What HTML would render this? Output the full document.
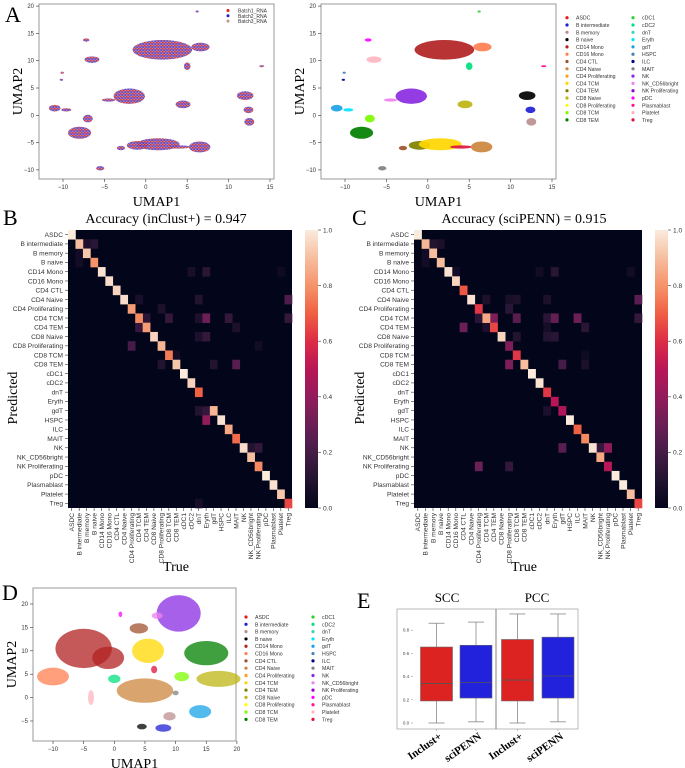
<!DOCTYPE html>
<html><head><meta charset="utf-8"><style>
html,body{margin:0;padding:0;background:#fff;}
svg{display:block;font-family:"Liberation Sans",sans-serif;}
.serif{font-family:"Liberation Serif",serif;}
</style></head><body>
<svg id="fig" width="685" height="768" viewBox="0 0 685 768" xmlns="http://www.w3.org/2000/svg">
<defs>
<pattern id="mix" width="3" height="3" patternUnits="userSpaceOnUse">
<rect width="3" height="3" fill="#a06aa8"/>
<circle cx="0.7" cy="0.7" r="0.8" fill="#e02020"/>
<circle cx="2.2" cy="2.0" r="0.8" fill="#2a2ae0"/>
<circle cx="2.2" cy="0.6" r="0.5" fill="#c89090"/>
</pattern>
<linearGradient id="rk" x1="0" y1="1" x2="0" y2="0">
<stop offset="0" stop-color="#03051A"/><stop offset="0.1" stop-color="#221331"/><stop offset="0.2" stop-color="#451C47"/><stop offset="0.3" stop-color="#6A1F56"/><stop offset="0.4" stop-color="#921C5B"/><stop offset="0.5" stop-color="#B91657"/><stop offset="0.6" stop-color="#DD2C45"/><stop offset="0.7" stop-color="#F06043"/><stop offset="0.8" stop-color="#F5936A"/><stop offset="0.9" stop-color="#F6BE9F"/><stop offset="1" stop-color="#FAEBDD"/>
</linearGradient>
</defs>
<g id="root"></g>
</svg>
<script>
// ---------- data ----------
const cats=["ASDC","B intermediate","B memory","B naive","CD14 Mono","CD16 Mono","CD4 CTL","CD4 Naive","CD4 Proliferating","CD4 TCM","CD4 TEM","CD8 Naive","CD8 Proliferating","CD8 TCM","CD8 TEM","cDC1","cDC2","dnT","Eryth","gdT","HSPC","ILC","MAIT","NK","NK_CD56bright","NK Proliferating","pDC","Plasmablast","Platelet","Treg"];
const catColors=["#e41a1c","#1f1fd6","#bc8f8f","#000000","#b22222","#ff7f50","#a0522d","#cd853f","#ff9f1a","#ffd700","#808000","#bdb513","#ffff00","#7cfc00","#008000","#32cd32","#00e080","#40d0c0","#00e5ff","#1aa3e8","#4682b4","#00008b","#808080","#8a2be2","#ee82ee","#9400d3","#ff00ff","#ff1493","#ffb6c1","#dc143c"];
const diagB=[1.0,0.9,0.92,0.8,0.98,0.97,0.95,0.97,0.82,0.78,0.82,0.95,0.88,0.75,0.92,1.0,0.95,0.7,0.0,0.88,0.98,0.85,0.72,0.97,0.9,0.78,1.0,0.98,0.92,0.65];
const diagC=[1.0,0.88,0.9,0.9,0.98,0.95,0.68,0.98,0.62,0.85,0.65,0.95,0.35,0.62,0.9,1.0,0.98,0.62,0.5,0.48,1.0,0.7,0.78,0.98,0.85,0.5,1.0,1.0,0.9,0.65];
const offB=[[1,2,0.08],[1,3,0.12],[2,1,0.05],[3,1,0.05],[4,16,0.07],[4,18,0.12],[4,28,0.04],[7,9,0.07],[7,17,0.1],[7,29,0.22],[8,12,0.08],[9,10,0.12],[9,13,0.15],[9,17,0.08],[9,18,0.3],[9,21,0.15],[9,29,0.15],[10,9,0.15],[10,22,0.08],[11,17,0.08],[11,18,0.15],[12,8,0.2],[12,25,0.05],[13,14,0.05],[14,12,0.1],[14,19,0.1],[14,22,0.25],[19,17,0.1],[19,18,0.15],[20,18,0.4],[23,24,0.1],[23,25,0.15],[29,17,0.06]];
const offC=[[1,2,0.1],[1,3,0.08],[2,1,0.05],[3,1,0.05],[4,5,0.05],[4,16,0.05],[4,18,0.12],[4,28,0.05],[7,9,0.08],[7,12,0.07],[7,13,0.08],[7,17,0.08],[7,29,0.25],[8,12,0.12],[9,8,0.12],[9,10,0.35],[9,13,0.25],[9,17,0.12],[9,18,0.28],[9,21,0.3],[9,29,0.15],[10,6,0.3],[10,9,0.08],[10,17,0.06],[10,22,0.12],[11,13,0.1],[11,17,0.1],[11,18,0.12],[13,22,0.04],[14,12,0.35],[14,19,0.2],[14,22,0.08],[19,17,0.08],[23,19,0.25],[23,24,0.15],[23,25,0.4],[25,8,0.3],[25,12,0.15]];
const cbTicks=[0,0.2,0.4,0.6,0.8,1.0];
const cbTickLabels=["0.0","0.2","0.4","0.6","0.8","1.0"];
// UMAP clusters: [category index, x, y, rx, ry]
const umapA=[[4,2,12,3.6,1.8],[5,6.6,12.5,1.1,0.8],[16,5,9,0.4,0.7],[26,-7.2,13.8,0.4,0.3],[28,-6.5,10.2,0.9,0.6],[24,-4.5,2.8,0.8,0.3],[23,-2,3.5,1.9,1.4],[11,4.5,2,0.9,0.7],[3,12,3.6,1.0,0.8],[1,12.4,1,0.6,0.6],[2,12.5,-1.2,0.6,0.7],[19,-11,1.3,0.7,0.6],[18,-9.6,1.0,0.6,0.3],[13,-7,-0.6,0.6,0.7],[14,-8,-3.2,1.4,1.1],[10,-1,-5.5,1.3,0.8],[9,1.5,-5.3,2.6,1.1],[6,-3,-6,0.5,0.4],[29,4,-5.8,1.3,0.3],[7,6.5,-5.8,1.3,1.0],[22,-5.5,-9.7,0.5,0.4],[27,14,9,0.3,0.2],[15,6.2,19,0.2,0.2],[20,-10.1,7.8,0.2,0.2],[21,-10.2,6.5,0.2,0.2]];
const umapD=[[4,-5,10.5,4.6,4.2],[4,-1,8.5,2.6,2.4],[5,-10,4.5,2.6,1.9],[23,10.5,18,3.6,3.9],[24,7,17.5,0.9,0.7],[26,1,17.8,0.3,0.6],[6,4,14.8,1.5,1.1],[9,5.5,10,2.6,2.6],[14,15,9.5,3.6,2.6],[13,11,4.5,1.2,1.0],[11,17,4,3.6,1.7],[7,5,1.5,4.6,2.6],[16,0,4,1.0,0.9],[28,-3.8,0,0.5,1.6],[19,14,-3,1.8,1.4],[3,4.5,-6.2,0.8,0.6],[1,8,-6.5,1.3,0.8],[2,9,-4,1.0,0.9],[29,6.5,6,0.5,0.8],[22,10,1,0.5,0.5]];
const legA=["Batch1_RNA","Batch2_RNA","Batch3_RNA"];
const legAColors=["#e41a1c","#1f1fd6","#c89090"];
// box plot data
const boxGroups=["SCC","SCC","PCC","PCC"];
const boxMethods=["Inclust+","sciPENN","Inclust+","sciPENN"];
const boxLow=[0.0,0.01,0.0,0.01];
const boxQ1=[0.19,0.215,0.19,0.215];
const boxMed=[0.34,0.35,0.37,0.405];
const boxQ3=[0.655,0.67,0.72,0.74];
const boxHigh=[0.86,0.87,0.94,0.94];
const boxColors=["#dd2222","#2222dd","#dd2222","#2222dd"];
const eTicks=[0,0.2,0.4,0.6,0.8];
const eTickLabels=["0.0","0.2","0.4","0.6","0.8"];

// ---------- helpers ----------
const NS="http://www.w3.org/2000/svg";
const root=document.getElementById('root');
function mk(tag,attrs,parent,txt){const e=document.createElementNS(NS,tag);for(const k in attrs)e.setAttribute(k,attrs[k]);if(txt!==undefined)e.textContent=txt;(parent||root).appendChild(e);return e;}
const stops=[[0,[3,5,26]],[0.1,[34,19,49]],[0.2,[69,28,71]],[0.3,[106,31,86]],[0.4,[146,28,91]],[0.5,[185,22,87]],[0.6,[221,44,69]],[0.7,[240,96,67]],[0.8,[245,147,106]],[0.9,[246,190,159]],[1,[250,235,221]]];
function rocket(v){v=Math.max(0,Math.min(1,v));for(let i=1;i<stops.length;i++){if(v<=stops[i][0]){const a=stops[i-1],b=stops[i],t=(v-a[0])/(b[0]-a[0]);const c=a[1].map((x,j)=>Math.round(x+(b[1][j]-x)*t));return `rgb(${c[0]},${c[1]},${c[2]})`;}}return "rgb(250,235,221)";}

function panelLabel(t,x,y){const e=mk('text',{x:x,y:y,'font-size':22,class:'serif'},root,t);

}

// ---------- UMAP ----------
function umap(name,ax,ay,aw,ah,x0px,sx,y0px,sy,xt,yt,clusters,colorFn,op){
  const g=mk('g',{},root);
  
  
  const fr=mk('rect',{x:ax,y:ay,width:aw,height:ah,fill:'#fff',stroke:'#999','stroke-width':1},g);
  
  
  const X=v=>x0px+v*sx, Y=v=>y0px-v*sy;
  clusters.forEach(c=>{
    const el=mk('ellipse',{cx:X(c[1]),cy:Y(c[2]),rx:c[3]*sx,ry:c[4]*sy,fill:colorFn(c[0]),opacity:op},g);
    
    
  });
  xt.forEach(v=>{mk('line',{x1:X(v),x2:X(v),y1:ay+ah,y2:ay+ah+3,stroke:'#333','stroke-width':0.6},g);
    const t=mk('text',{x:X(v),y:ay+ah+10,'font-size':6,'text-anchor':'middle',fill:'#333'},g,v<0?'\u2212'+(-v):''+v);
    
    });
  yt.forEach(v=>{mk('line',{x1:ax-3,x2:ax,y1:Y(v),y2:Y(v),stroke:'#333','stroke-width':0.6},g);
    const t=mk('text',{x:ax-5,y:Y(v)+2,'font-size':6,'text-anchor':'end',fill:'#333'},g,v<0?'\u2212'+(-v):''+v);
    
    });
  const xl=mk('text',{x:ax+aw/2,y:ay+ah+27,'font-size':14,'text-anchor':'middle',class:'serif'},g,'UMAP1');
  
  
  const yl=mk('text',{x:0,y:0,'font-size':14,'text-anchor':'middle',class:'serif',transform:`translate(${ax-17},${ay+ah/2}) rotate(-90)`},g,'UMAP2');
  
  
}
function catLegend(name,x1,x2,y0,step,fs){
  const g=mk('g',{},root);
  
  
  cats.forEach((c,i)=>{const col=i<15?0:1,r=i%15;const x=col?x2:x1,y=y0+r*step;
    const e=mk('g',{},g);
    
    
    mk('circle',{cx:x,cy:y,r:1.6,fill:catColors[i]},e);
    mk('text',{x:x+9,y:y+2,'font-size':fs,fill:'#333'},e,c);});
}
panelLabel('A',5,22);
umap('umap-batch',39,4,235,175,145.8,8.28,115.3,5.46,[-10,-5,0,5,10,15],[-10,-5,0,5,10,15,20],umapA,i=>'url(#mix)',0.92);
legA.forEach((l,i)=>{const e=mk('g',{},root);
  
  
  mk('circle',{cx:228,cy:10.5+i*5.3,r:1.5,fill:legAColors[i]},e);
  mk('text',{x:238,y:12.5+i*5.3,'font-size':5,fill:'#333'},e,l);});
umap('umap-celltype',321,4,235,175,427.8,8.28,115.3,5.46,[-10,-5,0,5,10,15],[-10,-5,0,5,10,15,20],umapA,i=>catColors[i],0.92);
catLegend('legend-celltype-a',567,633,17.7,7.3,5.2);

// ---------- heatmaps ----------
function heat(name,x0,y0,w,h,diag,off,cbx,title,tx,lx){
  const g=mk('g',{},root);
  
  
  const n=cats.length,cw=w/n,ch=h/n;
  const X=i=>x0+i*cw, Y=i=>y0+i*ch;
  const bg=mk('rect',{x:x0,y:y0,width:w,height:h,fill:rocket(0)},g);
  
  
  off.forEach(o=>{const r=mk('rect',{x:X(o[1]),y:Y(o[0]),width:cw+0.3,height:ch+0.3,fill:rocket(o[2])},g);
    
    });
  diag.forEach((v,i)=>{const r=mk('rect',{x:X(i),y:Y(i),width:cw+0.3,height:ch+0.3,fill:rocket(v)},g);
    
    });
  cats.forEach((c,i)=>{
    mk('line',{x1:x0-3,x2:x0,y1:Y(i)+ch/2,y2:Y(i)+ch/2,stroke:'#333','stroke-width':0.6},g);
    const t=mk('text',{x:x0-5,y:Y(i)+ch/2+2.3,'font-size':6.6,'text-anchor':'end',fill:'#333'},g,c);
    
    
    mk('line',{x1:X(i)+cw/2,x2:X(i)+cw/2,y1:y0+h,y2:y0+h+3,stroke:'#333','stroke-width':0.6},g);
    const t2=mk('text',{x:0,y:0,'font-size':6.6,'text-anchor':'end',fill:'#333',transform:`translate(${X(i)+cw/2+2.3},${y0+h+5}) rotate(-90)`},g,c);
    
    
  });
  const cb=mk('rect',{x:cbx,y:y0,width:13,height:h,fill:'url(#rk)'},g);
  
  
  cbTicks.forEach((v,i)=>{const y=y0+h-v*h;
    mk('line',{x1:cbx+13,x2:cbx+16,y1:y,y2:y,stroke:'#333','stroke-width':0.6},g);
    const t=mk('text',{x:cbx+18,y:y+2.3,'font-size':6.6,fill:'#333'},g,cbTickLabels[i]);
    
    });
  const tt=mk('text',{x:tx,y:223,'font-size':14,'text-anchor':'middle',class:'serif'},g,title);
  
  
  const xl=mk('text',{x:x0+w/2-4,y:571,'font-size':14,'text-anchor':'middle',class:'serif'},g,'True');
  
  
  const yl=mk('text',{x:0,y:0,'font-size':14,'text-anchor':'middle',class:'serif',transform:`translate(${lx},398) rotate(-90)`},g,'Predicted');
  
  
}
panelLabel('B',3,225);
heat('heatmap-inclust',68,230,224,278,diagB,offB,305,'Accuracy (inClust+) = 0.947',166,17);
panelLabel('C',352,225);
heat('heatmap-scipenn',414,230,228,278,diagC,offC,655,'Accuracy (sciPENN) = 0.915',524,364);

// ---------- D ----------
panelLabel('D',2,600);
umap('umap-d',33,588,203,153,114.3,6.13,697.6,4.68,[-10,-5,0,5,10,15,20],[-5,0,5,10,15,20],umapD,i=>catColors[i],0.75);
catLegend('legend-celltype-d',246,313,617,7.31,5.2);

// ---------- E ----------
panelLabel('E',357,608);
(function(){
  const g=mk('g',{},root);
  
  
  const y0=723,s=116,Y=v=>y0-v*s;
  const centers=[436.5,476,517.5,558];const bw=32;
  const fr=mk('rect',{x:397,y:609,width:181,height:120,fill:'none',stroke:'#aaa','stroke-width':0.8},g);
  
  
  mk('line',{x1:496,x2:496,y1:609,y2:729,stroke:'#666','stroke-width':0.8},g);
  eTicks.forEach((v,i)=>{const t=mk('text',{x:406,y:Y(v)+1.5,'font-size':4.5,'text-anchor':'middle',fill:'#444'},g,eTickLabels[i]);
    
    
    mk('line',{x1:411,x2:413,y1:Y(v),y2:Y(v),stroke:'#888','stroke-width':0.5},g);});
  boxGroups.forEach((gname,i)=>{const cx=centers[i];
    const b=mk('g',{},g);
    
    
    mk('line',{x1:cx,x2:cx,y1:Y(boxHigh[i]),y2:Y(boxQ3[i]),stroke:'#888','stroke-width':0.8},b);
    mk('line',{x1:cx,x2:cx,y1:Y(boxQ1[i]),y2:Y(boxLow[i]),stroke:'#888','stroke-width':0.8},b);
    mk('line',{x1:cx-8,x2:cx+8,y1:Y(boxHigh[i]),y2:Y(boxHigh[i]),stroke:'#888','stroke-width':0.8},b);
    mk('line',{x1:cx-8,x2:cx+8,y1:Y(boxLow[i]),y2:Y(boxLow[i]),stroke:'#888','stroke-width':0.8},b);
    mk('rect',{x:cx-bw/2,y:Y(boxQ3[i]),width:bw,height:Y(boxQ1[i])-Y(boxQ3[i]),fill:boxColors[i],stroke:'#666','stroke-width':0.6},b);
    mk('line',{x1:cx-bw/2,x2:cx+bw/2,y1:Y(boxMed[i]),y2:Y(boxMed[i]),stroke:'#555','stroke-width':0.8},b);
    mk('line',{x1:cx,x2:cx,y1:729,y2:731,stroke:'#888','stroke-width':0.5},b);
    const t=mk('text',{x:0,y:0,'font-size':11,'font-weight':'bold','text-anchor':'end',class:'serif',transform:`translate(${cx+6},${738}) rotate(-35)`},g,boxMethods[i]);
    
    
  });
  const t1=mk('text',{x:447,y:602,'font-size':13,'text-anchor':'middle',class:'serif'},g,'SCC');
  
  
  const t2=mk('text',{x:537,y:602,'font-size':13,'text-anchor':'middle',class:'serif'},g,'PCC');
  
  
})();
</script>
</body></html>
